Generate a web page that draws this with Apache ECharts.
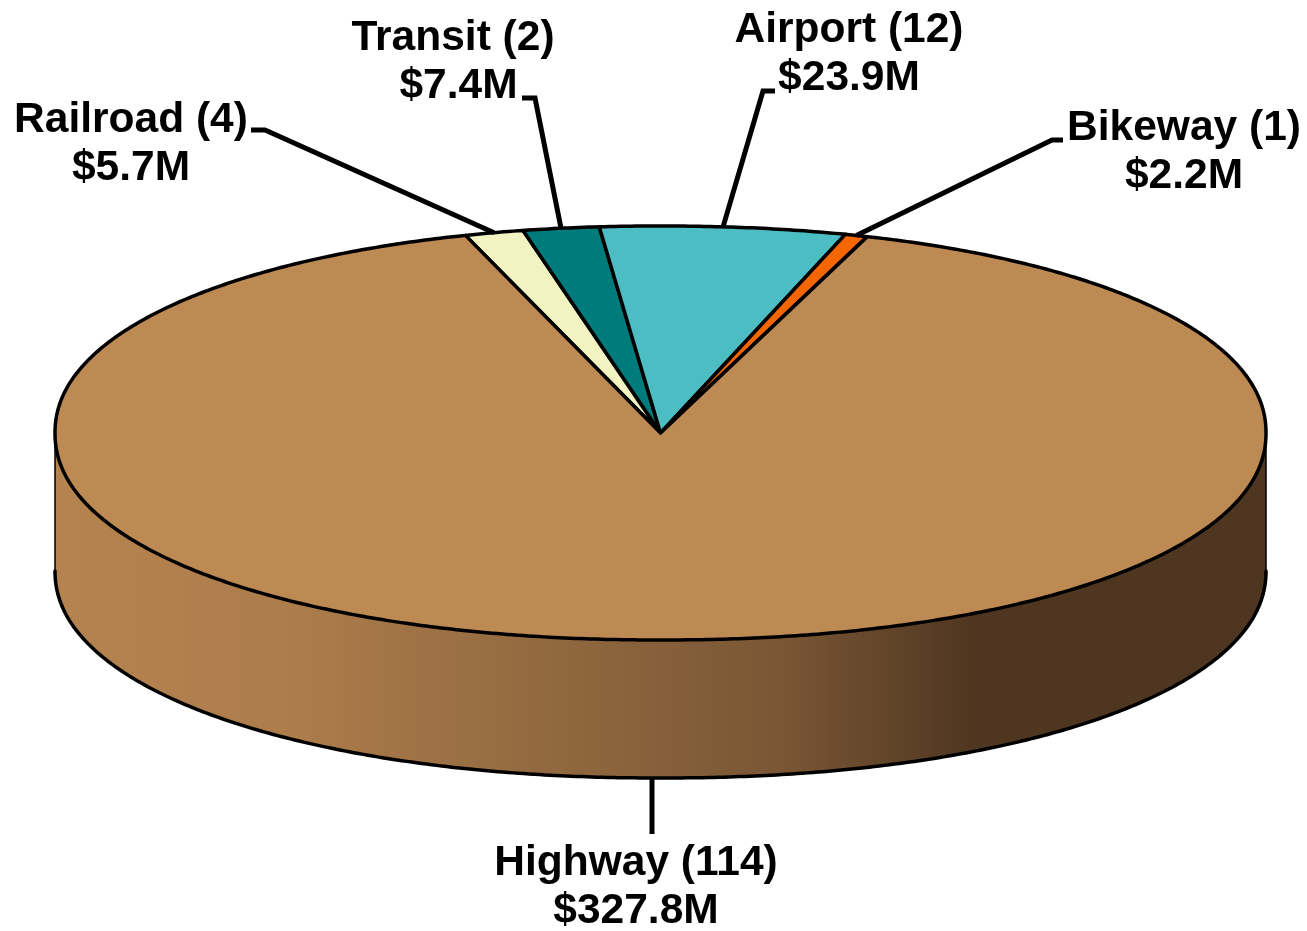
<!DOCTYPE html>
<html>
<head>
<meta charset="utf-8">
<style>
  html, body { margin: 0; padding: 0; background: #fff; }
  #main { width: 1307px; height: 931px; }
</style>
<script src="https://cdn.jsdelivr.net/npm/echarts@6/dist/echarts.min.js"></script>
</head>
<body>
<div id="main"></div>
<script>
// values
var names = ['Railroad', 'Transit', 'Airport', 'Bikeway', 'Highway'];
var counts = [4, 2, 12, 1, 114];
var amounts = [5.7, 7.4, 23.9, 2.2, 327.8];
var colors = ['#F3F3C2', '#007B7B', '#4CBDC2', '#F56600', '#BE8A54'];

// where the labels sit and where each leader line bends
var nameX = [131, 453, 849, 1184, 636];
var amountX = [131, 458.5, 849, 1184, 636];
var labelY = [144, 62, 54, 152, 887];
var elbows = [
  [[265, 130], [251, 130]],
  [[535, 98], [522, 98]],
  [[763, 91], [775, 91]],
  [[1052, 140], [1063, 140]],
  [[652, 834]]
];

// pie geometry, the disc is a little fuller than a true ellipse
var cx = 660.5, cy = 433, rx = 605.5, ry = 207, depth = 138, bulge = 2.1;
var startAngle = -18.65;

var total = amounts.reduce(function (a, b) { return a + b; }, 0);
var starts = [];
var acc = startAngle;
amounts.forEach(function (v) {
  starts.push(acc);
  acc += v / total * 360;
});

// angle is clockwise from the top of the disc
function pt(deg, dy) {
  var t = deg * Math.PI / 180;
  var s = Math.sin(t), c = Math.cos(t);
  var r = Math.pow(Math.pow(Math.abs(s), bulge) + Math.pow(Math.abs(c), bulge), -1 / bulge);
  return [cx + rx * r * s, cy - ry * r * c + (dy || 0)];
}
function arc(a0, a1, dy) {
  var pts = [];
  var n = Math.max(2, Math.ceil(Math.abs(a1 - a0) * 2));
  for (var i = 0; i <= n; i++) {
    pts.push(pt(a0 + (a1 - a0) * i / n, dy));
  }
  return pts;
}
function midAngle(i) {
  return starts[i] + amounts[i] / total * 180;
}
function labelLine(text, x, y) {
  return {
    type: 'text',
    style: {
      x: x,
      y: y,
      text: text,
      fill: '#000',
      font: 'bold 42.5px "Liberation Sans", Arial, sans-serif',
      align: 'center',
      verticalAlign: 'middle'
    }
  };
}

var wallFill = new echarts.graphic.LinearGradient(0, 0, 1, 0, [
  { offset: 0, color: '#B5834F' },
  { offset: 0.2, color: '#AC7C4B' },
  { offset: 0.45, color: '#8C653D' },
  { offset: 0.6, color: '#7A5635' },
  { offset: 0.76, color: '#4F3620' },
  { offset: 1, color: '#4F3620' }
]);

var option = {
  animation: false,
  backgroundColor: '#fff',
  series: [
    {
      // front wall of the disc, only the highway slice shows there
      type: 'custom',
      coordinateSystem: 'none',
      silent: true,
      data: [amounts[4]],
      renderItem: function () {
        var top = arc(90, 270, 0);
        var bottom = arc(270, 90, depth);
        return {
          type: 'group',
          children: [
            {
              type: 'polygon',
              shape: { points: top.concat(bottom) },
              style: { fill: wallFill, stroke: '#000', lineWidth: 1.5 }
            },
            {
              type: 'polyline',
              shape: { points: bottom },
              style: { fill: null, stroke: '#000', lineWidth: 3.5, lineCap: 'round' }
            }
          ]
        };
      }
    },
    {
      // top face
      type: 'custom',
      coordinateSystem: 'none',
      silent: true,
      data: amounts,
      renderItem: function (params, api) {
        var i = params.dataIndex;
        var a0 = starts[i];
        var a1 = a0 + api.value(0) / total * 360;
        return {
          type: 'polygon',
          shape: { points: [[cx, cy]].concat(arc(a0, a1, 0)) },
          style: { fill: colors[i], stroke: '#000', lineWidth: 3.5, lineJoin: 'round' }
        };
      }
    },
    {
      // leader lines and labels
      type: 'custom',
      coordinateSystem: 'none',
      silent: true,
      data: amounts,
      renderItem: function (params, api) {
        var i = params.dataIndex;
        var from = pt(midAngle(i), i === 4 ? depth : 0);
        // the highway leader drops straight down
        if (i === 4) {
          from[0] = elbows[i][0][0];
        }
        return {
          type: 'group',
          children: [
            {
              type: 'polyline',
              shape: { points: [from].concat(elbows[i]) },
              style: { fill: null, stroke: '#000', lineWidth: 5 }
            },
            labelLine(names[i] + ' (' + counts[i] + ')', nameX[i], labelY[i] - 24),
            labelLine('$' + api.value(0).toFixed(1) + 'M', amountX[i], labelY[i] + 24)
          ]
        };
      }
    }
  ]
};

var chart = echarts.init(document.getElementById('main'), null, { renderer: 'canvas' });
chart.setOption(option);
</script>
</body>
</html>
